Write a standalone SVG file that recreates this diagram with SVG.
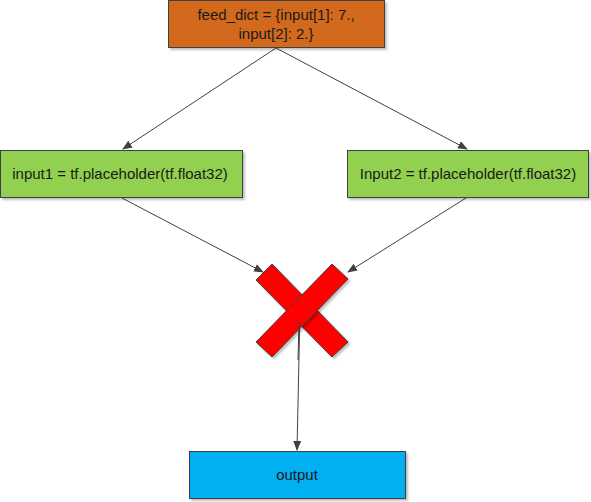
<svg xmlns="http://www.w3.org/2000/svg" width="591" height="502" viewBox="0 0 591 502">
<defs>
<marker id="ah" markerWidth="10" markerHeight="8" refX="9" refY="4" orient="auto" markerUnits="userSpaceOnUse">
<path d="M0,0 L10,4 L0,8 z" fill="#404040"/>
</marker>
<filter id="sh" x="-10%" y="-10%" width="120%" height="130%">
<feDropShadow dx="2" dy="2" stdDeviation="1" flood-color="#000" flood-opacity="0.25"/>
</filter>
</defs>
<style>
.box{stroke:#404040;stroke-width:1;filter:url(#sh)}
.t{font-family:"Liberation Sans",Arial,sans-serif;font-size:15px;fill:#1a1a1a;text-anchor:middle}
.c{stroke:#404040;stroke-width:1;fill:none;marker-end:url(#ah)}
</style>
<rect width="591" height="502" fill="#fff"/>
<g id="connectors">
<line class="c" x1="276" y1="48" x2="123" y2="149"/>
<line class="c" x1="276" y1="48" x2="467" y2="149"/>
<line class="c" x1="122" y1="198" x2="263" y2="272"/>
<line class="c" x1="466" y1="198" x2="348" y2="272"/>
<line class="c" x1="300" y1="310" x2="297" y2="450"/>
</g>
<g id="feed_dict">
<rect class="box" x="168.500" y="0.500" width="216" height="47" fill="#D2691E"/>
<text class="t" x="276" y="20">feed_dict = {input[1]: 7.,</text>
<text class="t" x="276" y="39">input[2]: 2.}</text>
</g>
<g id="input1">
<rect class="box" x="0.500" y="150.500" width="242" height="47" fill="#92D050"/>
<text class="t" x="120" y="179">input1 = tf.placeholder(tf.float32)</text>
</g>
<g id="input2">
<rect class="box" x="347.500" y="150.500" width="241" height="47" fill="#92D050"/>
<text class="t" x="468" y="179">Input2 = tf.placeholder(tf.float32)</text>
</g>
<g id="cross">
<polygon class="box" points="256,280 272,264 348,342 332,357" fill="#FF0000"/>
<polygon class="box" points="256,342 332,264 348,279 272,357" fill="#FF0000"/>
<line x1="299" y1="322" x2="298" y2="360" stroke="#404040" stroke-width="1"/>
</g>
<g id="output">
<rect class="box" x="189.500" y="451.500" width="216" height="47" fill="#00B0F0"/>
<text class="t" x="297" y="480">output</text>
</g>
</svg>
